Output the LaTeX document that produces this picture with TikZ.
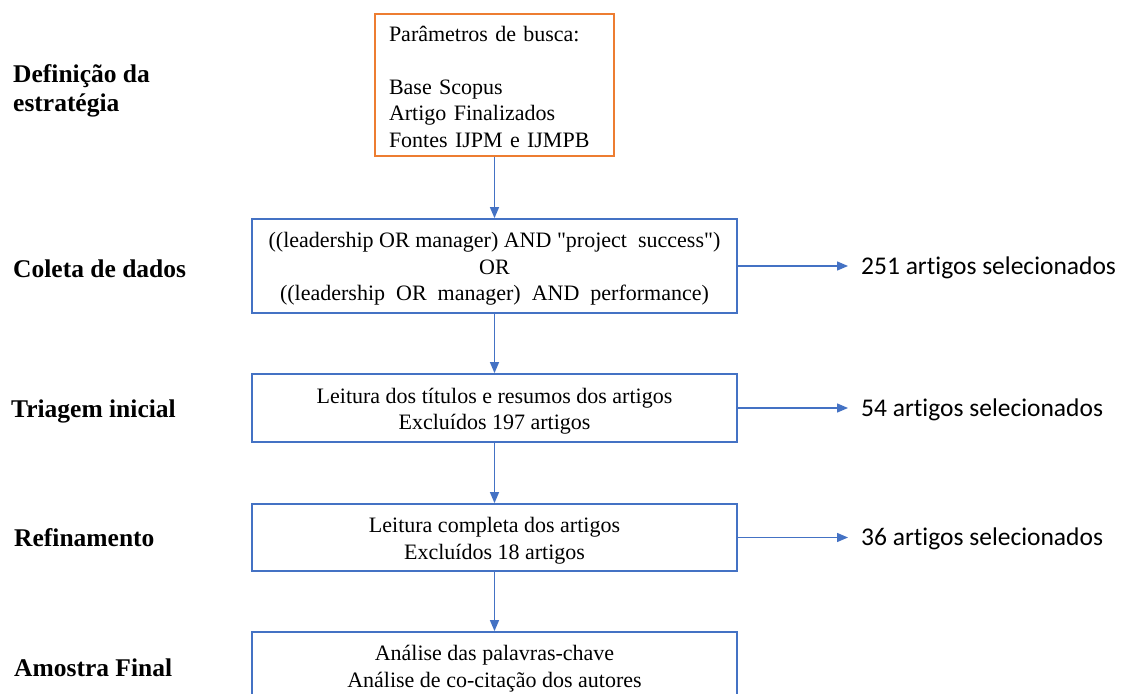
\documentclass[tikz,border=0pt]{standalone}
\usepackage{fontspec}
\setmainfont{Liberation Serif}
\newfontfamily\calib[Ligatures=NoCommon]{Carlito}
\usetikzlibrary{arrows.meta}
\definecolor{offblue}{HTML}{4472C4}
\definecolor{offorange}{HTML}{ED7D31}
\newcommand{\toppad}{\rule{0pt}{21.5pt}}
\tikzset{
  box/.style={draw=offblue, line width=1.8pt, rectangle, minimum width=485pt, align=center,
    font=\fontsize{22pt}{26.5pt}\selectfont, inner sep=0pt},
  obox/.style={draw=offorange, line width=1.8pt, rectangle, minimum width=239pt, minimum height=142pt,
    align=left, text width=211pt, font=\fontsize{22pt}{26.5pt}\selectfont, inner sep=0pt},
  lab/.style={font=\fontsize{25.5pt}{29.5pt}\selectfont\bfseries, inner sep=0pt, align=left},
  res/.style={font=\calib\fontsize{25.5pt}{30pt}\selectfont, inner sep=0pt},
  arr/.style={draw=offblue, line width=1.3pt, -{Triangle[length=11pt,width=9pt]}},
}
\begin{document}
\begin{tikzpicture}[x=1pt,y=-1pt]
\useasboundingbox[fill=white] (0,0) rectangle (1121,693);
% boxes
\node[obox] (b1) at (494.5,85) {\rule{0pt}{19pt}Parâmetros de busca:\\[26.5pt]Base Scopus\\Artigo Finalizados\\Fontes IJPM e IJMPB};
\node[box, minimum height=94pt] (b2) at (494.5,266) {\toppad((leadership OR manager) AND \textquotedbl project\ \ success\textquotedbl)\\OR\\((leadership\ \ OR\ \ manager)\ \ AND\ \ performance)};
\node[box, minimum height=68pt] (b3) at (494.5,408) {\toppad Leitura dos títulos e resumos dos artigos\\Excluídos 197 artigos};
\node[box, minimum height=67pt] (b4) at (494.5,537.5) {\toppad Leitura completa dos artigos\\Excluídos 18 artigos};
\node[box, minimum height=67pt] (b5) at (494.5,665.5) {\toppad Análise das palavras-chave\\Análise de co-citação dos autores};
% left labels
\node[lab, anchor=base west] (l1) at (13,111.5) {Definição da\\estratégia};
\node[lab, anchor=base west] (l2) at (13,277) {Coleta de dados};
\node[lab, anchor=base west] (l3) at (11,417) {Triagem inicial};
\node[lab, anchor=base west] (l4) at (14,546) {Refinamento};
\node[lab, anchor=base west] (l5) at (14,676) {Amostra Final};
% results
\node[res, anchor=base west] (r1) at (861,274) {251 artigos selecionados};
\node[res, anchor=base west] (r2) at (861,416) {54 artigos selecionados};
\node[res, anchor=base west] (r3) at (861,545) {36 artigos selecionados};
% connectors
\draw[arr] (b1) -- (b2);
\draw[arr] (b2) -- (b3);
\draw[arr] (b3) -- (b4);
\draw[arr] (b4) -- (b5);
\draw[arr, shorten >=13pt] (b2.east) -- (b2.east -| r1.west);
\draw[arr, shorten >=13pt] (b3.east) -- (b3.east -| r2.west);
\draw[arr, shorten >=13pt] (b4.east) -- (b4.east -| r3.west);
\end{tikzpicture}
\end{document}
